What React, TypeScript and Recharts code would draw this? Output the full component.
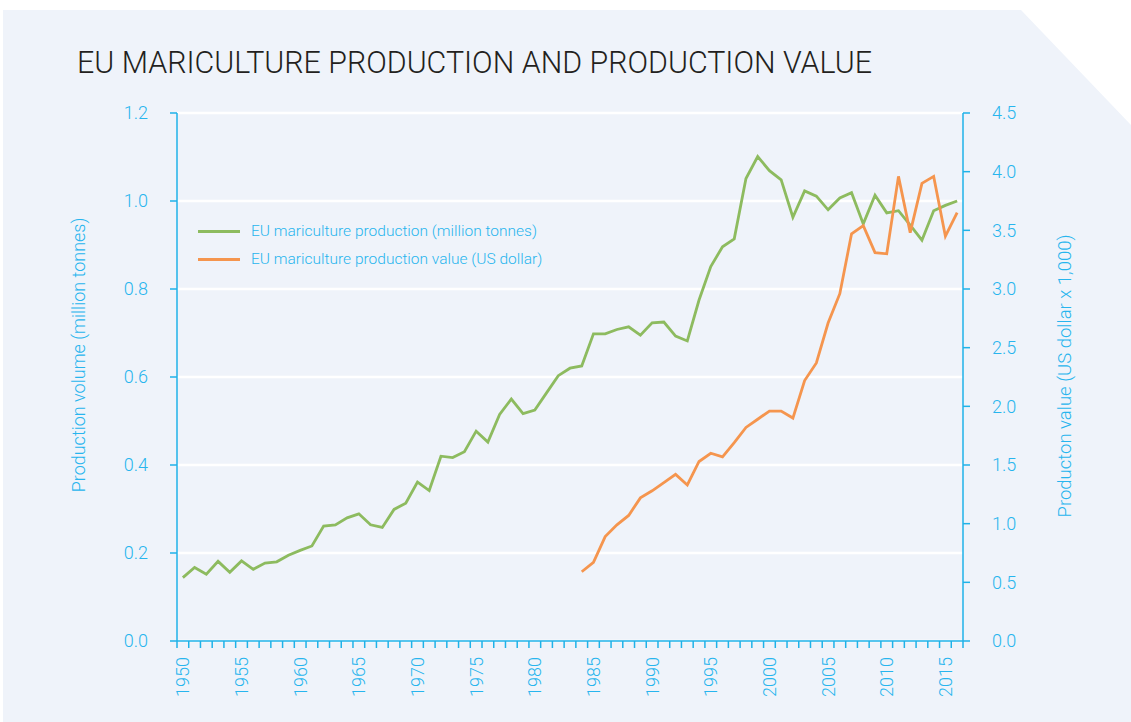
import {
  CartesianGrid,
  Line,
  LineChart,
  XAxis,
  YAxis,
} from "recharts";

// EU mariculture, yearly series
const firstYear = 1950;
const production = [
  0.144, 0.167, 0.152, 0.181, 0.156, 0.182, 0.163, 0.177, 0.18, 0.195,
  0.206, 0.216, 0.261, 0.264, 0.28, 0.289, 0.264, 0.258, 0.299, 0.313,
  0.361, 0.342, 0.42, 0.417, 0.43, 0.477, 0.452, 0.515, 0.55, 0.517,
  0.525, 0.564, 0.603, 0.62, 0.625, 0.698, 0.698, 0.708, 0.714, 0.695,
  0.723, 0.725, 0.693, 0.682, 0.775, 0.851, 0.896, 0.914, 1.051, 1.101,
  1.069, 1.048, 0.963, 1.023, 1.011, 0.98, 1.007, 1.019, 0.948, 1.013,
  0.973, 0.978, 0.945, 0.911, 0.978, 0.99, 1.0,
];
const valueFirstYear = 1984;
const productionValue = [
  0.59, 0.67, 0.89, 0.99, 1.07, 1.22, 1.28, 1.35, 1.42, 1.33, 1.53, 1.6,
  1.57, 1.69, 1.82, 1.89, 1.96, 1.96, 1.9, 2.22, 2.37, 2.71, 2.96, 3.47,
  3.54, 3.31, 3.3, 3.96, 3.48, 3.9, 3.96, 3.45, 3.65,
];
const yearLabels = [1950, 1955, 1960, 1965, 1970, 1975, 1980, 1985, 1990, 1995, 2000, 2005, 2010, 2015];
const volumeTicks = [0, 0.2, 0.4, 0.6, 0.8, 1.0, 1.2];
const valueTicks = [0, 0.5, 1, 1.5, 2, 2.5, 3, 3.5, 4, 4.5];

const data = production.map((p, i) => {
  const year = firstYear + i;
  const vi = year - valueFirstYear;
  return {
    year,
    production: p,
    value: vi >= 0 ? productionValue[vi] : undefined,
  };
});
const lastYear = firstYear + production.length - 1;
const boundaries = Array.from(
  { length: production.length + 1 },
  (_, i) => firstYear - 0.5 + i
);

const AXIS = "#1fb2e8";
const TEXT = "#27b5ee";
const GREEN = "#8dbb5f";
const ORANGE = "#f5954e";
const FONT = "Roboto, 'Liberation Sans', sans-serif";

const legendItems = [
  { c: GREEN, t: "EU mariculture production (million tonnes)" },
  { c: ORANGE, t: "EU mariculture production value (US dollar)" },
];

const YearTick = (props: any) => {
  const { x, y, payload } = props;
  return (
    <text
      x={x}
      y={y}
      transform={`rotate(-90 ${x} ${y})`}
      textAnchor="end"
      dominantBaseline="central"
      fill={TEXT}
      fontSize={18}
      fontWeight={300}
      fontFamily={FONT}
    >
      {payload.value}
    </text>
  );
};

export default function App() {
  return (
    <div style={{ position: "absolute", left: 0, top: 0, width: 1131, height: 722, background: "#fff" }}>
      <svg width={1131} height={722} style={{ position: "absolute", left: 0, top: 0 }}>
        <polygon points="3,10 1021,10 1131,125 1131,722 3,722" fill="#eff3fa" />
        <text
          x={77}
          y={73}
          fontFamily={FONT}
          fontWeight={300}
          fontSize={31}
          fill="#231f20"
          textLength={795}
          lengthAdjust="spacingAndGlyphs"
        >
          EU MARICULTURE PRODUCTION AND PRODUCTION VALUE
        </text>
        <text
          x={78}
          y={355}
          transform="rotate(-90 78 355)"
          textAnchor="middle"
          dominantBaseline="central"
          fontFamily={FONT}
          fontWeight={300}
          fontSize={18}
          fill={TEXT}
        >
          Production volume (million tonnes)
        </text>
        <text
          x={1065}
          y={376}
          transform="rotate(-90 1065 376)"
          textAnchor="middle"
          dominantBaseline="central"
          fontFamily={FONT}
          fontWeight={300}
          fontSize={18.5}
          fill={TEXT}
        >
          Producton value (US dollar x 1,000)
        </text>
      </svg>
      <div style={{ position: "absolute", left: 0, top: 0 }}>
        <LineChart
          width={1131}
          height={722}
          data={data}
          margin={{ top: 113, right: 68, bottom: 11, left: 77 }}
        >
          <CartesianGrid
            horizontal
            vertical={false}
            stroke="#ffffff"
            strokeWidth={2.5}
            yAxisId="left"
            xAxisId="marks"
          />
          <XAxis
            xAxisId="marks"
            dataKey="year"
            type="number"
            domain={[firstYear - 0.5, lastYear + 0.5]}
            ticks={boundaries}
            interval={0}
            height={10}
            tickSize={7}
            tickFormatter={() => ""}
            stroke={AXIS}
            strokeWidth={1.5}
          />
          <XAxis
            xAxisId="years"
            dataKey="year"
            type="number"
            domain={[firstYear - 0.5, lastYear + 0.5]}
            ticks={yearLabels}
            interval={0}
            height={60}
            tickSize={0}
            tickMargin={6}
            axisLine={false}
            tickLine={false}
            tick={<YearTick />}
          />
          <YAxis
            yAxisId="left"
            domain={[0, 1.2]}
            ticks={volumeTicks}
            interval={0}
            width={100}
            tickSize={7}
            tickMargin={22}
            stroke={AXIS}
            strokeWidth={1.5}
            tickFormatter={(v: number) => v.toFixed(1)}
            tick={{ fill: TEXT, fontSize: 18, fontWeight: 300, fontFamily: FONT }}
          />
          <YAxis
            yAxisId="right"
            orientation="right"
            domain={[0, 4.5]}
            ticks={valueTicks}
            interval={0}
            width={100}
            tickSize={7}
            tickMargin={22}
            stroke={AXIS}
            strokeWidth={1.5}
            tickFormatter={(v: number) => v.toFixed(1)}
            tick={{ fill: TEXT, fontSize: 18, fontWeight: 300, fontFamily: FONT, textAnchor: "start" }}
          />
          <Line
            xAxisId="marks"
            yAxisId="left"
            dataKey="production"
            type="linear"
            stroke={GREEN}
            strokeWidth={2.8}
            dot={false}
            activeDot={false}
            isAnimationActive={false}
          />
          <Line
            xAxisId="marks"
            yAxisId="right"
            dataKey="value"
            type="linear"
            stroke={ORANGE}
            strokeWidth={2.8}
            dot={false}
            activeDot={false}
            isAnimationActive={false}
          />
        </LineChart>
      </div>
      <div
        style={{
          position: "absolute",
          left: 198,
          top: 217,
          fontFamily: FONT,
          fontWeight: 300,
          fontSize: 15.5,
          color: TEXT,
        }}
      >
        {legendItems.map((it) => (
          <div key={it.t} style={{ display: "flex", alignItems: "center", height: 28 }}>
            <div style={{ width: 42, height: 3, background: it.c, marginRight: 11 }} />
            <span>{it.t}</span>
          </div>
        ))}
      </div>
    </div>
  );
}
